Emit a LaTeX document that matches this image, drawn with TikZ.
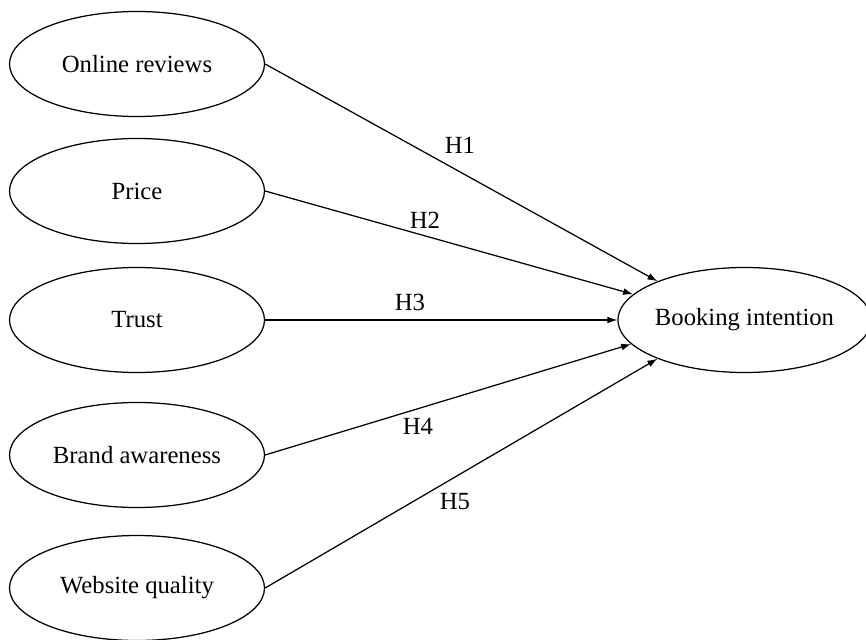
\documentclass[tikz,border=0pt]{standalone}
\usepackage{fontspec}
\setmainfont{Liberation Serif}
\usetikzlibrary{arrows.meta,shapes.geometric}
\tikzset{
	construct/.style={draw, ellipse, line width=1.25pt, minimum width=255pt, minimum height=105pt, inner sep=0pt, font=\fontsize{24.7}{29}\selectfont},
	path/.style={line width=1.25pt, -{Latex[length=10pt,width=7pt]}},
	hyp/.style={font=\fontsize{24.7}{29}\selectfont}
}

\begin{document}
\begin{tikzpicture}[x=1pt, y=-1pt]
			%%%%% START %%%%%
			
			\useasboundingbox (0, 0) rectangle (866, 639);
			
			\node[construct] (reviews) at (137, 64) {\raisebox{-2pt}{Online reviews}};
			\node[construct] (price) at (137, 191) {\raisebox{-2pt}{Price}};
			\node[construct] (trust) at (137, 320) {\raisebox{-2pt}{Trust}};
			\node[construct] (brand) at (137, 455) {\raisebox{-2pt}{Brand awareness}};
			\node[construct] (website) at (137, 588) {\raisebox{-2pt}{Website quality}};
			
			\node[construct, minimum width=241pt] (booking) at (744.5, 320) {\raisebox{-2pt}{Booking intention}};
			
			\draw[path] (reviews.east) -- (booking.156);
			\draw[path] (price.east) -- (booking.167);
			\draw[path] (trust.east) -- (booking.west);
			\draw[path] (brand.east) -- (booking.192);
			\draw[path] (website.east) -- (booking.204);
			
			\node[hyp] (h1) at (460, 145) {H1};
			\node[hyp] (h2) at (425, 220) {H2};
			\node[hyp] (h3) at (410, 302) {H3};
			\node[hyp] (h4) at (418, 426) {H4};
			\node[hyp] (h5) at (455, 502) {H5};
			
			%%%%% END %%%%%
		\end{tikzpicture}
\end{document}
